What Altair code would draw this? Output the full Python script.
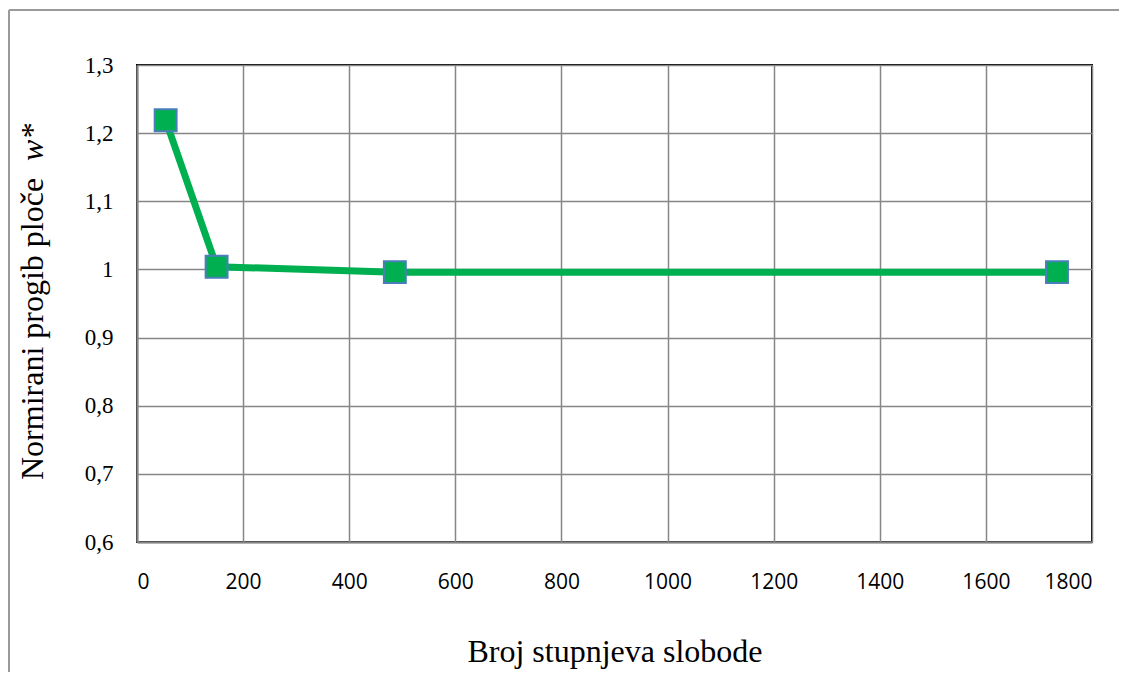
import altair as alt
import pandas as pd

# Data
dof = [54, 150, 486, 1734]
w_star = [1.219, 1.004, 0.996, 0.996]
x_ticks = [0, 200, 400, 600, 800, 1000, 1200, 1400, 1600, 1800]
y_ticks = [0.6, 0.7, 0.8, 0.9, 1.0, 1.1, 1.2, 1.3]
y_title_main = ["Normirani progib ploče"]
y_title_var = ["w*"]
x_title = "Broj stupnjeva slobode"

df = pd.DataFrame({"dof": dof, "w": w_star})

W, H = 955, 477
GREEN = "#00B050"
GRID = "#868686"

x_enc = alt.X(
    "dof:Q",
    scale=alt.Scale(domain=[0, 1800], nice=False),
    axis=alt.Axis(
        values=x_ticks,
        format="d",
        title=x_title,
        labelFont="Open Sans",
        labelFontSize=21,
        labelColor="#000000",
        labelPadding=29,
        titleFont="Liberation Serif",
        titleFontSize=32,
        titleFontWeight="normal",
        titleColor="#000000",
        titlePadding=44,
        ticks=False,
        tickSize=0,
        grid=True,
    ),
)
y_enc = alt.Y(
    "w:Q",
    scale=alt.Scale(domain=[0.6, 1.3], nice=False, zero=False),
    axis=alt.Axis(
        values=y_ticks,
        title=None,
        labelExpr="replace(format(datum.value, '.2~f'), '.', ',')",
        labelFont="Liberation Serif",
        labelFontSize=23,
        labelColor="#000000",
        labelPadding=24,
        ticks=False,
        tickSize=0,
        grid=True,
    ),
)

base = alt.Chart(df)
line = base.mark_line(color=GREEN, strokeWidth=7).encode(x=x_enc, y=y_enc)
pts = base.mark_square(
    size=480, color=GREEN, fill=GREEN, stroke="#4A7EBB", strokeWidth=2, opacity=1
).encode(x="dof:Q", y="w:Q")

t1 = alt.Chart(pd.DataFrame({"t": y_title_main})).mark_text(
    angle=270, align="left", baseline="middle",
    font="Liberation Serif", fontSize=32, color="#000000",
).encode(text="t:N", x=alt.value(-104), y=alt.value(415))

t2 = alt.Chart(pd.DataFrame({"t": y_title_var})).mark_text(
    angle=270, align="left", baseline="middle",
    font="Liberation Serif", fontSize=32, fontStyle="italic", color="#000000",
).encode(text="t:N", x=alt.value(-104), y=alt.value(96))

border_left = alt.Chart(pd.DataFrame({"a": [0]})).mark_rule(
    color="#9a9a9a", strokeWidth=2
).encode(x=alt.value(-128), y=alt.value(-55), y2=alt.value(H + 140))
border_top = alt.Chart(pd.DataFrame({"a": [0]})).mark_rule(
    color="#9a9a9a", strokeWidth=2
).encode(x=alt.value(-128), x2=alt.value(985), y=alt.value(-55))

chart = (
    alt.layer(line, pts, t1, t2, border_left, border_top)
    .properties(
        width=W,
        height=H,
        padding={"left": 129, "top": 57, "right": 27, "bottom": 130},
        autosize=alt.AutoSizeParams(type="none"),
    )
    .configure_view(stroke="#000000", strokeWidth=2)
    .configure_axis(
        domainColor=GRID, domainWidth=2, gridColor=GRID, gridWidth=1.5, gridOpacity=1
    )
)

chart.save("out.html", embed_options={"renderer": "svg", "actions": False})
